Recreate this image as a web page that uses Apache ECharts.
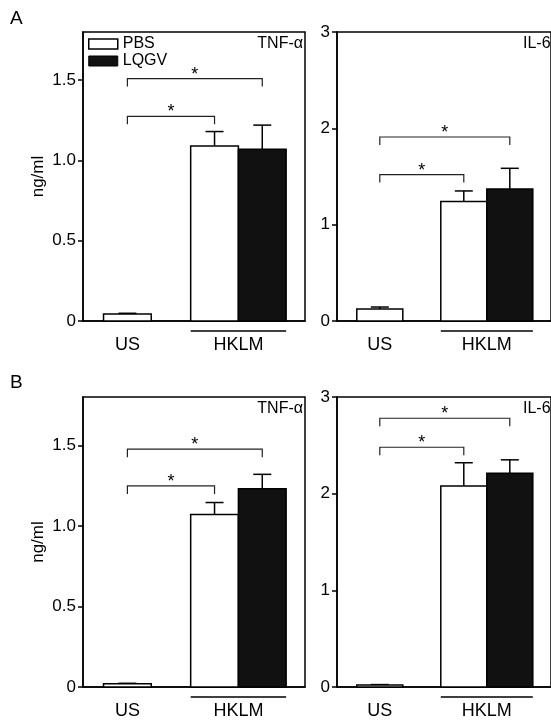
<!DOCTYPE html>
<html>
<head>
<meta charset="utf-8">
<script src="https://cdn.jsdelivr.net/npm/echarts@6/dist/echarts.min.js"></script>
<style>
  html, body { margin: 0; padding: 0; background: #fff; }
  #chart { width: 551px; height: 722px; }
</style>
</head>
<body>
<div id="chart"></div>
<script>
// Cytokine release (ng/ml) after stimulation, PBS vs LQGV treatment
const groups = ['US', 'HKLM'];

const tnfTicks = [0, 0.5, 1.0, 1.5];
const il6Ticks = [0, 1, 2, 3];

// Panel A
const tnfA_pbs = [0.044, 1.09];
const tnfA_pbsErr = [0.004, 0.09];
const tnfA_lqgv = [null, 1.07];
const tnfA_lqgvErr = [null, 0.15];
const tnfA_sig = [1.275, 1.51];   // US vs HKLM/PBS, US vs HKLM/LQGV

const il6A_pbs = [0.125, 1.24];
const il6A_pbsErr = [0.02, 0.11];
const il6A_lqgv = [null, 1.37];
const il6A_lqgvErr = [null, 0.215];
const il6A_sig = [1.52, 1.91];

// Panel B
const tnfB_pbs = [0.02, 1.07];
const tnfB_pbsErr = [0.003, 0.075];
const tnfB_lqgv = [null, 1.23];
const tnfB_lqgvErr = [null, 0.09];
const tnfB_sig = [1.248, 1.476];

const il6B_pbs = [0.02, 2.08];
const il6B_pbsErr = [0.005, 0.24];
const il6B_lqgv = [null, 2.21];
const il6B_lqgvErr = [null, 0.14];
const il6B_sig = [2.48, 2.78];

const FONT = "'Liberation Sans', Arial, Helvetica, sans-serif";
const BAR = 0.43;      // bar width in x-axis units
const CAP = 18;        // error cap width, px
const DROP = 8;        // bracket leg length, px

const panels = [
  { box: { left: 83, top: 32, width: 222, height: 289 }, max: 1.8, ticks: tnfTicks,
    pbs: tnfA_pbs, pbsErr: tnfA_pbsErr, lqgv: tnfA_lqgv, lqgvErr: tnfA_lqgvErr, sig: tnfA_sig, yName: 'ng/ml' },
  { box: { left: 337, top: 32, width: 222, height: 289 }, max: 3, ticks: il6Ticks,
    pbs: il6A_pbs, pbsErr: il6A_pbsErr, lqgv: il6A_lqgv, lqgvErr: il6A_lqgvErr, sig: il6A_sig, yName: '' },
  { box: { left: 83, top: 397, width: 222, height: 290 }, max: 1.8, ticks: tnfTicks,
    pbs: tnfB_pbs, pbsErr: tnfB_pbsErr, lqgv: tnfB_lqgv, lqgvErr: tnfB_lqgvErr, sig: tnfB_sig, yName: 'ng/ml' },
  { box: { left: 337, top: 397, width: 222, height: 290 }, max: 3, ticks: il6Ticks,
    pbs: il6B_pbs, pbsErr: il6B_pbsErr, lqgv: il6B_lqgv, lqgvErr: il6B_lqgvErr, sig: il6B_sig, yName: '' }
];

function barSeries(p, gi, name, vals, errs, other, side, fill) {
  const data = [];
  vals.forEach((v, i) => { if (v != null) data.push([i, v, errs[i]]); });
  return {
    type: 'custom', name: name, xAxisIndex: gi, yAxisIndex: gi,
    itemStyle: { color: fill, borderColor: '#000', borderWidth: 1.5 },
    data: data,
    renderItem: function (params, api) {
      const g = api.value(0), v = api.value(1), e = api.value(2);
      const unit = api.size([1, 0])[0];
      const w = unit * BAR;
      const paired = other[g] != null;
      const base = api.coord([g, 0]);
      const cx = base[0] + (paired ? side * w / 2 : 0);
      const yTop = api.coord([g, v])[1];
      const yErr = api.coord([g, v + e])[1];
      return {
        type: 'group',
        children: [
          { type: 'line', shape: { x1: cx, y1: yTop, x2: cx, y2: yErr }, style: { stroke: '#000', lineWidth: 1.5 } },
          { type: 'line', shape: { x1: cx - CAP / 2, y1: yErr, x2: cx + CAP / 2, y2: yErr }, style: { stroke: '#000', lineWidth: 1.5 } },
          { type: 'rect', shape: { x: cx - w / 2, y: yTop, width: w, height: base[1] - yTop },
            style: { fill: fill, stroke: '#000', lineWidth: 1.5 } }
        ]
      };
    }
  };
}

function bracketSeries(p, gi) {
  // first bracket reaches the PBS bar of HKLM, second the LQGV bar
  const data = p.sig.map((lvl, i) => [i === 0 ? -1 : 1, lvl]);
  return {
    type: 'custom', xAxisIndex: gi, yAxisIndex: gi, silent: true,
    data: data,
    renderItem: function (params, api) {
      const side = api.value(0), lvl = api.value(1);
      const unit = api.size([1, 0])[0];
      const w = unit * BAR;
      const xl = api.coord([0, lvl])[0];
      const xr = api.coord([1, lvl])[0] + side * w / 2;
      const y = api.coord([0, lvl])[1];
      const st = { stroke: '#222', lineWidth: 1.2 };
      return {
        type: 'group',
        children: [
          { type: 'polyline', shape: { points: [[xl, y + DROP], [xl, y], [xr, y], [xr, y + DROP]] }, style: Object.assign({ fill: null }, st) },
          { type: 'text', x: (xl + xr) / 2, y: y + 5,
            style: { text: '*', fill: '#000', font: '18px ' + FONT, align: 'center', verticalAlign: 'bottom' } }
        ]
      };
    }
  };
}

function underlineSeries(gi) {
  return {
    type: 'custom', xAxisIndex: gi, yAxisIndex: gi, silent: true,
    data: [[1]],
    renderItem: function (params, api) {
      const g = api.value(0);
      const a = api.coord([g - BAR, 0]);
      const b = api.coord([g + BAR, 0]);
      return { type: 'line', shape: { x1: a[0], y1: a[1] + 10, x2: b[0], y2: b[1] + 10 },
               style: { stroke: '#000', lineWidth: 1.5 } };
    }
  };
}

const grid = [], xAxis = [], yAxis = [], series = [];
panels.forEach((p, gi) => {
  grid.push(Object.assign({ show: true, borderColor: '#000', borderWidth: 1.5, backgroundColor: 'transparent' }, p.box));
  xAxis.push({
    type: 'value', gridIndex: gi, min: -0.4, max: 1.6,
    splitLine: { show: false },
    axisLine: { show: true, onZero: false, lineStyle: { color: '#000', width: 1.5 } },
    axisTick: { show: false },
    axisLabel: {
      customValues: [0, 1], margin: 15,
      formatter: v => groups[Math.round(v)],
      color: '#000', fontSize: 18, fontFamily: FONT
    }
  });
  yAxis.push({
    type: 'value', gridIndex: gi, min: 0, max: p.max,
    name: p.yName, nameLocation: 'middle', nameGap: 36, nameRotate: 90,
    nameTextStyle: { color: '#000', fontSize: 17, fontFamily: FONT },
    splitLine: { show: false },
    axisLine: { show: true, onZero: false, lineStyle: { color: '#000', width: 1.5 } },
    axisTick: { show: true, customValues: p.ticks, length: 5, inside: false, lineStyle: { color: '#000', width: 1.5 } },
    axisLabel: {
      customValues: p.ticks, margin: 7,
      formatter: v => (v === 0 ? '0' : (p.max < 2 ? v.toFixed(1) : String(v))),
      color: '#000', fontSize: 17, fontFamily: FONT
    }
  });
  series.push(underlineSeries(gi));
  series.push(barSeries(p, gi, 'PBS', p.pbs, p.pbsErr, p.lqgv, -1, '#fff'));
  series.push(barSeries(p, gi, 'LQGV', p.lqgv, p.lqgvErr, p.pbs, 1, '#111'));
  series.push(bracketSeries(p, gi));
});

const txt = (x, y, s, size, align) => ({
  type: 'text', x: x, y: y,
  style: { text: s, fill: '#000', font: size + 'px ' + FONT, align: align, verticalAlign: 'middle' }
});

const option = {
  animation: false,
  backgroundColor: '#fff',
  grid: grid, xAxis: xAxis, yAxis: yAxis, series: series,
  legend: {
    left: 88, top: 36, orient: 'vertical', padding: 0,
    itemWidth: 29, itemHeight: 10, itemGap: 1, itemTextGap: 5,
    icon: 'rect', selectedMode: false,
    textStyle: { color: '#000', fontSize: 16, fontFamily: FONT, lineHeight: 16 },
    data: [
      { name: 'PBS', itemStyle: { color: '#fff', borderColor: '#000', borderWidth: 1.5 } },
      { name: 'LQGV', itemStyle: { color: '#111', borderColor: '#000', borderWidth: 1 } }
    ]
  },
  graphic: [
    txt(10, 19, 'A', 19, 'left'),
    txt(10, 383, 'B', 19, 'left'),
    txt(303, 44, 'TNF-α', 16, 'right'),
    txt(523, 44, 'IL-6', 16, 'left'),
    txt(303, 409, 'TNF-α', 16, 'right'),
    txt(523, 409, 'IL-6', 16, 'left')
  ]
};

const chart = echarts.init(document.getElementById('chart'), null, { renderer: 'canvas' });
chart.setOption(option);
</script>
</body>
</html>
